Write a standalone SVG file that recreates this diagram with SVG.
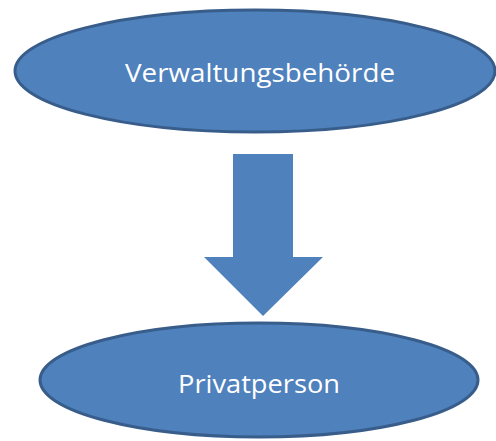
<svg xmlns="http://www.w3.org/2000/svg" width="496" height="441" viewBox="0 0 496 441">
<style>
.node{fill:#4F81BD;stroke:#385D8A;stroke-width:3}
.lbl{fill:#FFFFFF;font-family:"Open Sans","Noto Sans","Liberation Sans",sans-serif;font-size:25px;text-anchor:middle}
.arrow{fill:#4F81BD;stroke:none}
</style>
<rect width="496" height="441" fill="#FFFFFF"/>
<g id="verwaltungsbehoerde">
<ellipse class="node" cx="255" cy="71" rx="240" ry="61"/>
<text class="lbl" x="260" y="82" textLength="270" lengthAdjust="spacingAndGlyphs">Verwaltungsbehörde</text>
</g>
<g id="connectors">
<polygon class="arrow" points="233,154 293,154 293,257 323,257 263,316 204,257 233,257"/>
</g>
<g id="privatperson">
<ellipse class="node" cx="259" cy="380" rx="219" ry="57"/>
<text class="lbl" x="259" y="393" textLength="162" lengthAdjust="spacingAndGlyphs">Privatperson</text>
</g>
</svg>
